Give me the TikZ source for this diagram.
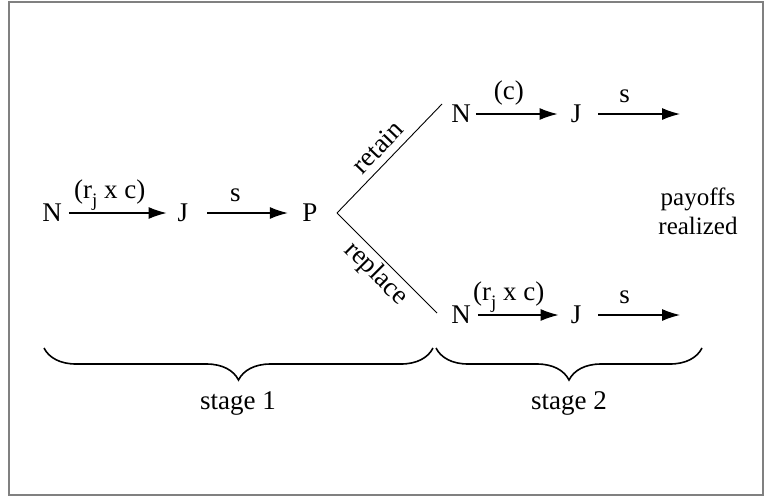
\documentclass[tikz,border=0pt]{standalone}
\usepackage{fontspec}
\setmainfont{Liberation Serif}
\usetikzlibrary{arrows.meta,decorations.pathreplacing}
\newcommand{\rjsub}{r\raisebox{-8pt}{\fontsize{19}{19}\selectfont j}}
\begin{document}
\begin{tikzpicture}[x=1pt,y=-1pt,
  every node/.style={font=\fontsize{27}{29}\selectfont, inner sep=0pt},
  arr/.style={-{Latex[length=18pt,width=12pt]}, line width=1.2pt},
  lbl/.style={midway, anchor=base, yshift=15pt},
  slbl/.style={midway, anchor=base, yshift=12pt},
  branch/.style={line width=0.9pt},
  brc/.style={decorate, decoration={brace, mirror, amplitude=32pt}, line width=1.6pt},
  frame/.style={draw=gray, line width=1.5pt}]
\useasboundingbox (0,0) rectangle (765,498);
\draw[frame] (9,2) rectangle (763,495);
% stage 1
\node (N1) at (52,213) {N};
\node (J1) at (183,213) {J};
\node (P) at (310,213) {P};
\draw[arr, shorten <=7pt, shorten >=11pt] (N1.east) -- (J1.west)
  node[lbl, xshift=-10pt] {(\rjsub{} x c)};
\draw[arr, shorten <=19pt, shorten >=14.5pt] (J1.east) -- (P.west)
  node[slbl, xshift=-10pt] {s};
% branches
\coordinate (br) at (337,213);
\coordinate (uE) at (442,104);
\coordinate (lE) at (437,313);
\draw[branch] (br) -- (uE) node[midway, sloped, above=7pt] {retain};
\draw[branch] (br) -- (lE) node[midway, sloped, below=3pt] {replace};
% upper row
\node (N2) at (461,114) {N};
\node (J2) at (576,114) {J};
\coordinate (e2) at (680,114);
\draw[arr, shorten <=5pt, shorten >=13pt] (N2.east) -- (J2.west)
  node[lbl, xshift=-12pt] {(c)};
\draw[arr, shorten <=17pt] (J2.east) -- (e2)
  node[slbl, xshift=-6pt] {s};
% lower row
\node (N3) at (461,315) {N};
\node (J3) at (576,315) {J};
\coordinate (e3) at (680,315);
\draw[arr, shorten <=7pt, shorten >=12pt] (N3.east) -- (J3.west)
  node[lbl, xshift=-12pt] {(\rjsub{} x c)};
\draw[arr, shorten <=17pt] (J3.east) -- (e3)
  node[slbl, xshift=-6pt] {s};
% payoffs
\node[align=center, font=\fontsize{25}{29}\selectfont] (pay) at (698,211) {payoffs\\realized};
% braces
\coordinate (b1) at (44,348);
\coordinate (b2) at (433,348);
\coordinate (b3) at (436,348);
\coordinate (b4) at (702,348);
\draw[brc] (b1) -- (b2);
\draw[brc] (b3) -- (b4);
\node[anchor=base] (st1) at (238,409) {stage 1};
\node[anchor=base] (st2) at (569,409) {stage 2};
\end{tikzpicture}
\end{document}
